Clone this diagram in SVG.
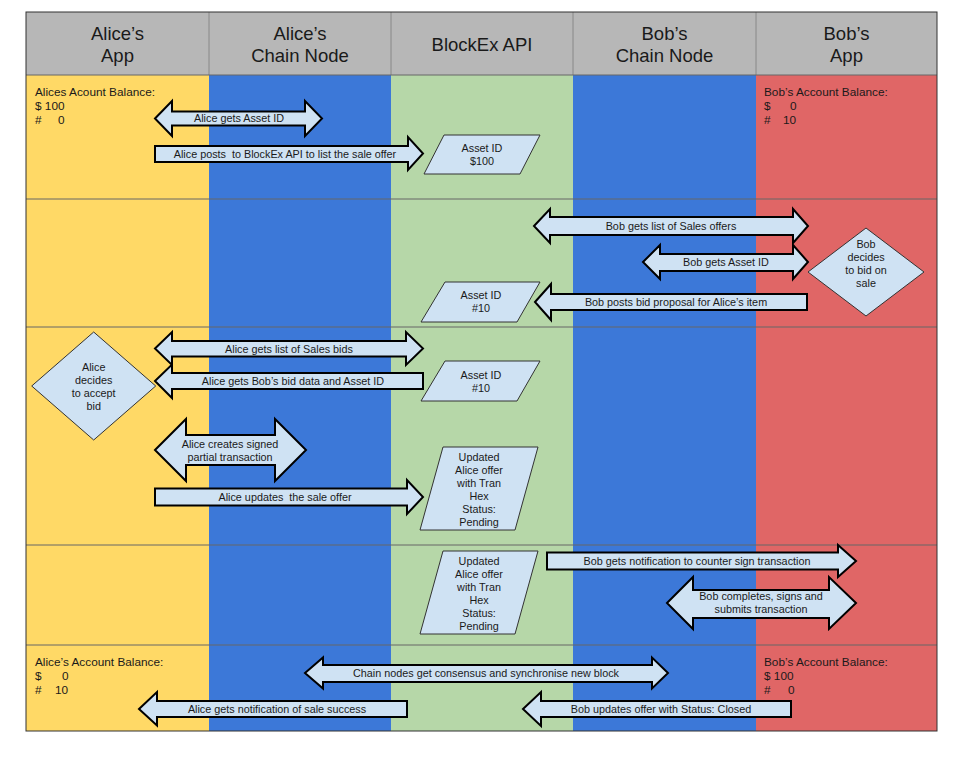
<svg xmlns="http://www.w3.org/2000/svg" width="959" height="758" viewBox="0 0 959 758">
  <style>
    text { font-family: "Liberation Sans", Arial, sans-serif; fill: #1a1a1a; }
    .hdr { font-size: 18.5px; text-anchor: middle; }
    .bal { font-size: 11.8px; }
    .lbl { font-size: 10.8px; text-anchor: middle; }
    .arr { fill: #cfe2f3; stroke: #000; stroke-width: 2; stroke-linejoin: miter; }
    .shape { fill: #cfe2f3; stroke: #333; stroke-width: 1; }
    .rowline { stroke: #666; stroke-width: 1; }
    .hdrline { stroke: #888; stroke-width: 1; }
  </style>

  <rect width="959" height="758" fill="#ffffff"/>

  <!-- swimlane table -->
  <g id="table">
    <rect x="26" y="12" width="911" height="63" fill="#b7b7b7"/>
    <rect x="26" y="75" width="183" height="656" fill="#ffd966"/>
    <rect x="209" y="75" width="182" height="656" fill="#3c78d8"/>
    <rect x="391" y="75" width="182" height="656" fill="#b6d7a8"/>
    <rect x="573" y="75" width="183" height="656" fill="#3c78d8"/>
    <rect x="756" y="75" width="181" height="656" fill="#e06666"/>
    <line class="hdrline" x1="209" y1="12" x2="209" y2="75"/>
    <line class="hdrline" x1="391" y1="12" x2="391" y2="75"/>
    <line class="hdrline" x1="573" y1="12" x2="573" y2="75"/>
    <line class="hdrline" x1="756" y1="12" x2="756" y2="75"/>
    <line class="rowline" x1="26" y1="75" x2="937" y2="75"/>
    <line class="rowline" x1="26" y1="199" x2="937" y2="199"/>
    <line class="rowline" x1="26" y1="327" x2="937" y2="327"/>
    <line class="rowline" x1="26" y1="545" x2="937" y2="545"/>
    <line class="rowline" x1="26" y1="645" x2="937" y2="645"/>
    <rect x="26" y="12" width="911" height="719" fill="none" stroke="#333" stroke-width="1"/>

    <text class="hdr" x="117.5" y="40">Alice’s</text>
    <text class="hdr" x="117.5" y="62">App</text>
    <text class="hdr" x="300" y="40">Alice’s</text>
    <text class="hdr" x="300" y="62">Chain Node</text>
    <text class="hdr" x="482" y="51">BlockEx API</text>
    <text class="hdr" x="664.5" y="40">Bob’s</text>
    <text class="hdr" x="664.5" y="62">Chain Node</text>
    <text class="hdr" x="846.5" y="40">Bob’s</text>
    <text class="hdr" x="846.5" y="62">App</text>
  </g>

  <!-- account balances -->
  <g id="alice-balance-start">
    <text class="bal" x="35" y="96">Alices Acount Balance:</text>
    <text class="bal" x="35" y="110">$ 100</text>
    <text class="bal" x="35" y="124">#<tspan x="58">0</tspan></text>
  </g>
  <g id="bob-balance-start">
    <text class="bal" x="764" y="96">Bob’s Account Balance:</text>
    <text class="bal" x="764" y="110">$<tspan x="790">0</tspan></text>
    <text class="bal" x="764" y="124">#<tspan x="783">10</tspan></text>
  </g>
  <g id="alice-balance-end">
    <text class="bal" x="35" y="666">Alice’s Account Balance:</text>
    <text class="bal" x="35" y="680">$<tspan x="62">0</tspan></text>
    <text class="bal" x="35" y="694">#<tspan x="55">10</tspan></text>
  </g>
  <g id="bob-balance-end">
    <text class="bal" x="764" y="666">Bob’s Account Balance:</text>
    <text class="bal" x="764" y="680">$ 100</text>
    <text class="bal" x="764" y="694">#<tspan x="788">0</tspan></text>
  </g>

  <!-- data records held by the API -->
  <g id="offer-record">
    <polygon class="shape" points="444,135 540,135 520,174 424,174"/>
    <text class="lbl" x="482" y="152">Asset ID</text>
    <text class="lbl" x="482" y="165">$100</text>
  </g>
  <g id="bid-record">
    <polygon class="shape" points="445,282 540,282 517,322 421,322"/>
    <text class="lbl" x="481" y="299">Asset ID</text>
    <text class="lbl" x="481" y="312">#10</text>
  </g>
  <g id="bid-record-fetched">
    <polygon class="shape" points="445,361 540,361 517,401 421,401"/>
    <text class="lbl" x="481" y="379">Asset ID</text>
    <text class="lbl" x="481" y="392">#10</text>
  </g>
  <g id="pending-offer">
    <polygon class="shape" points="443,447 538,447 515,530 420,530"/>
    <text class="lbl" x="479" y="461">Updated</text>
    <text class="lbl" x="479" y="474">Alice offer</text>
    <text class="lbl" x="479" y="487">with Tran</text>
    <text class="lbl" x="479" y="500">Hex</text>
    <text class="lbl" x="479" y="513">Status:</text>
    <text class="lbl" x="479" y="526">Pending</text>
  </g>
  <g id="pending-offer-notified">
    <polygon class="shape" points="443,551 538,551 515,634 420,634"/>
    <text class="lbl" x="479" y="565">Updated</text>
    <text class="lbl" x="479" y="578">Alice offer</text>
    <text class="lbl" x="479" y="591">with Tran</text>
    <text class="lbl" x="479" y="604">Hex</text>
    <text class="lbl" x="479" y="617">Status:</text>
    <text class="lbl" x="479" y="630">Pending</text>
  </g>

  <!-- decisions -->
  <g id="bob-decides">
    <polygon class="shape" points="866,228 924,272 866,316 808,272"/>
    <text class="lbl" x="866" y="248">Bob</text>
    <text class="lbl" x="866" y="261">decides</text>
    <text class="lbl" x="866" y="274">to bid on</text>
    <text class="lbl" x="866" y="287">sale</text>
  </g>
  <g id="alice-decides">
    <polygon class="shape" points="93.7,332 155.7,386 93.7,440 31.7,386"/>
    <text class="lbl" x="93.7" y="371">Alice</text>
    <text class="lbl" x="93.7" y="384">decides</text>
    <text class="lbl" x="93.7" y="397">to accept</text>
    <text class="lbl" x="93.7" y="410">bid</text>
  </g>

  <!-- block arrows between lanes -->
  <g id="connectors">
    <g id="alice-gets-asset-id">
      <polygon class="arr" points="155,118.5 172,101 172,111.5 305,111.5 305,101 322,118.5 305,136 305,125.5 172,125.5 172,136"/>
      <text class="lbl" x="239" y="122">Alice gets Asset ID</text>
    </g>
    <g id="alice-posts-offer">
      <polygon class="arr" points="155,146 408,146 408,137 423,153.5 408,170 408,162 155,162"/>
      <text class="lbl" x="285" y="158" xml:space="preserve">Alice posts  to BlockEx API to list the sale offer</text>
    </g>
    <g id="bob-gets-offers">
      <polygon class="arr" points="534,226 550,209 550,217 793,217 793,209 808,226 793,243 793,235 550,235 550,243"/>
      <text class="lbl" x="671" y="230">Bob gets list of Sales offers</text>
    </g>
    <g id="bob-gets-asset-id">
      <polygon class="arr" points="643,262 660,245 660,254 793,254 793,245 808,262 793,279 793,271 660,271 660,279"/>
      <text class="lbl" x="726" y="266">Bob gets Asset ID</text>
    </g>
    <g id="bob-posts-bid">
      <polygon class="arr" points="535,302 551,284 551,294 807,294 807,310 551,310 551,320"/>
      <text class="lbl" x="676" y="306">Bob posts bid proposal for Alice’s item</text>
    </g>
    <g id="alice-gets-bids">
      <polygon class="arr" points="155,348.5 172,332 172,341 406,341 406,332 423,348.5 406,365 406,356.5 172,356.5 172,365"/>
      <text class="lbl" x="289" y="353">Alice gets list of Sales bids</text>
    </g>
    <g id="alice-gets-bid-data">
      <polygon class="arr" points="155,381 172,364.5 172,373 423,373 423,389 172,389 172,398"/>
      <text class="lbl" x="293" y="385">Alice gets Bob’s bid data and Asset ID</text>
    </g>
    <g id="alice-signs-partial">
      <polygon class="arr" points="155,450 186,419 186,435 275,435 275,419 306,450 275,481 275,465 186,465 186,481"/>
      <text class="lbl" x="230" y="448">Alice creates signed</text>
      <text class="lbl" x="230" y="461">partial transaction</text>
    </g>
    <g id="alice-updates-offer">
      <polygon class="arr" points="155,488.5 407,488.5 407,480 423,497 407,514 407,505.5 155,505.5"/>
      <text class="lbl" x="285" y="501" xml:space="preserve">Alice updates  the sale offer</text>
    </g>
    <g id="bob-notified">
      <polygon class="arr" points="547,552.5 838,552.5 838,545 856,561 838,577 838,569.5 547,569.5"/>
      <text class="lbl" x="697" y="565">Bob gets notification to counter sign transaction</text>
    </g>
    <g id="bob-countersigns">
      <polygon class="arr" points="667,603 693,577 693,590 829,590 829,577 856,603 829,629 829,618 693,618 693,629"/>
      <text class="lbl" x="761" y="600">Bob completes, signs and</text>
      <text class="lbl" x="761" y="613">submits transaction</text>
    </g>
    <g id="chain-consensus">
      <polygon class="arr" points="305,673 323,657.5 323,665 652,665 652,657.5 668,673 652,688.5 652,682 323,682 323,688.5"/>
      <text class="lbl" x="486" y="677">Chain nodes get consensus and synchronise new block</text>
    </g>
    <g id="alice-notified">
      <polygon class="arr" points="139,709 157,692 157,701 407,701 407,717 157,717 157,725.5"/>
      <text class="lbl" x="277" y="713">Alice gets notification of sale success</text>
    </g>
    <g id="bob-closes-offer">
      <polygon class="arr" points="523,709 541,692 541,701 791,701 791,717 541,717 541,726"/>
      <text class="lbl" x="661" y="713">Bob updates offer with Status: Closed</text>
    </g>
  </g>
</svg>
